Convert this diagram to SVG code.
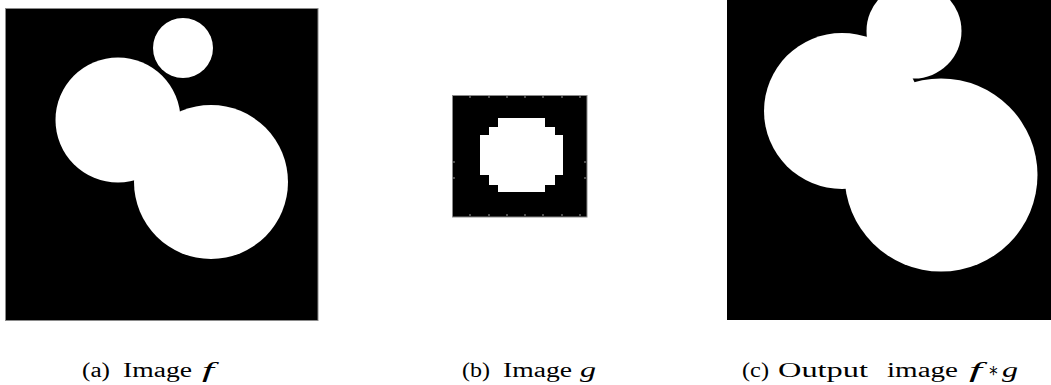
<svg xmlns="http://www.w3.org/2000/svg" width="1051" height="385" viewBox="0 0 1051 385">
  <style>
    .bg { fill: #000; }
    .fr { stroke: #8a8a8a; stroke-width: 1; }
    .w { fill: #fff; }
    .cap { font-family: "Liberation Serif", "DejaVu Serif", serif; font-size: 20px; fill: #000; }
    .it { font-style: italic; }
    .tick { stroke: #9a9a9a; stroke-width: 1; }
  </style>
  <rect width="1051" height="385" fill="#fff"/>

  <g id="image-f">
    <rect class="bg fr" x="5.5" y="8.5" width="312.5" height="312"/>
    <circle class="w" cx="183" cy="48" r="30"/>
    <circle class="w" cx="118" cy="120" r="62.5"/>
    <circle class="w" cx="211" cy="182" r="77"/>
  </g>

  <g id="image-g">
    <rect class="bg fr" x="452.5" y="95.5" width="134.5" height="121.5"/>
    <path class="w" d="M498 118 H545 V127 H555 V135 H563 V175 H555 V185 H545 V192 H498 V185 H489 V175 H480 V135 H489 V127 H498 Z" shape-rendering="crispEdges"/>
    <g class="tick">
      <line x1="470" y1="96" x2="470" y2="98"/><line x1="489" y1="96" x2="489" y2="98"/>
      <line x1="507" y1="96" x2="507" y2="98"/><line x1="525" y1="96" x2="525" y2="98"/>
      <line x1="543" y1="96" x2="543" y2="98"/><line x1="562" y1="96" x2="562" y2="98"/>
      <line x1="580" y1="96" x2="580" y2="98"/>
      <line x1="470" y1="214" x2="470" y2="216"/><line x1="489" y1="214" x2="489" y2="216"/>
      <line x1="507" y1="214" x2="507" y2="216"/><line x1="525" y1="214" x2="525" y2="216"/>
      <line x1="543" y1="214" x2="543" y2="216"/><line x1="562" y1="214" x2="562" y2="216"/>
      <line x1="580" y1="214" x2="580" y2="216"/>
      <line x1="453" y1="162" x2="455" y2="162"/><line x1="453" y1="178" x2="455" y2="178"/>
      <line x1="584" y1="162" x2="586" y2="162"/><line x1="584" y1="178" x2="586" y2="178"/>
    </g>
  </g>

  <g id="image-fg">
    <rect class="bg" x="727" y="0" width="324" height="320"/>
    <circle class="w" cx="914" cy="31" r="47.5"/>
    <circle class="w" cx="842" cy="111" r="78"/>
    <circle class="w" cx="941" cy="175" r="96.5"/>
  </g>

  <g id="caption-a" class="cap">
    <text x="82" y="377" textLength="28" lengthAdjust="spacingAndGlyphs">(a)</text>
    <text x="123" y="377" textLength="69" lengthAdjust="spacingAndGlyphs">Image</text>
    <text class="it" x="202" y="377" textLength="12" lengthAdjust="spacingAndGlyphs">f</text>
  </g>

  <g id="caption-b" class="cap">
    <text x="462" y="377" textLength="28" lengthAdjust="spacingAndGlyphs">(b)</text>
    <text x="503" y="377" textLength="69" lengthAdjust="spacingAndGlyphs">Image</text>
    <text class="it" x="580" y="377" textLength="16" lengthAdjust="spacingAndGlyphs">g</text>
  </g>

  <g id="caption-c" class="cap">
    <text x="742" y="377" textLength="27" lengthAdjust="spacingAndGlyphs">(c)</text>
    <text x="778" y="377" textLength="90" lengthAdjust="spacingAndGlyphs">Output</text>
    <text x="887" y="377" textLength="71" lengthAdjust="spacingAndGlyphs">image</text>
    <text class="it" x="969" y="377" textLength="13" lengthAdjust="spacingAndGlyphs">f</text>
    <text x="988" y="377" textLength="11" lengthAdjust="spacingAndGlyphs">∗</text>
    <text class="it" x="1002" y="377" textLength="16" lengthAdjust="spacingAndGlyphs">g</text>
  </g>
</svg>
